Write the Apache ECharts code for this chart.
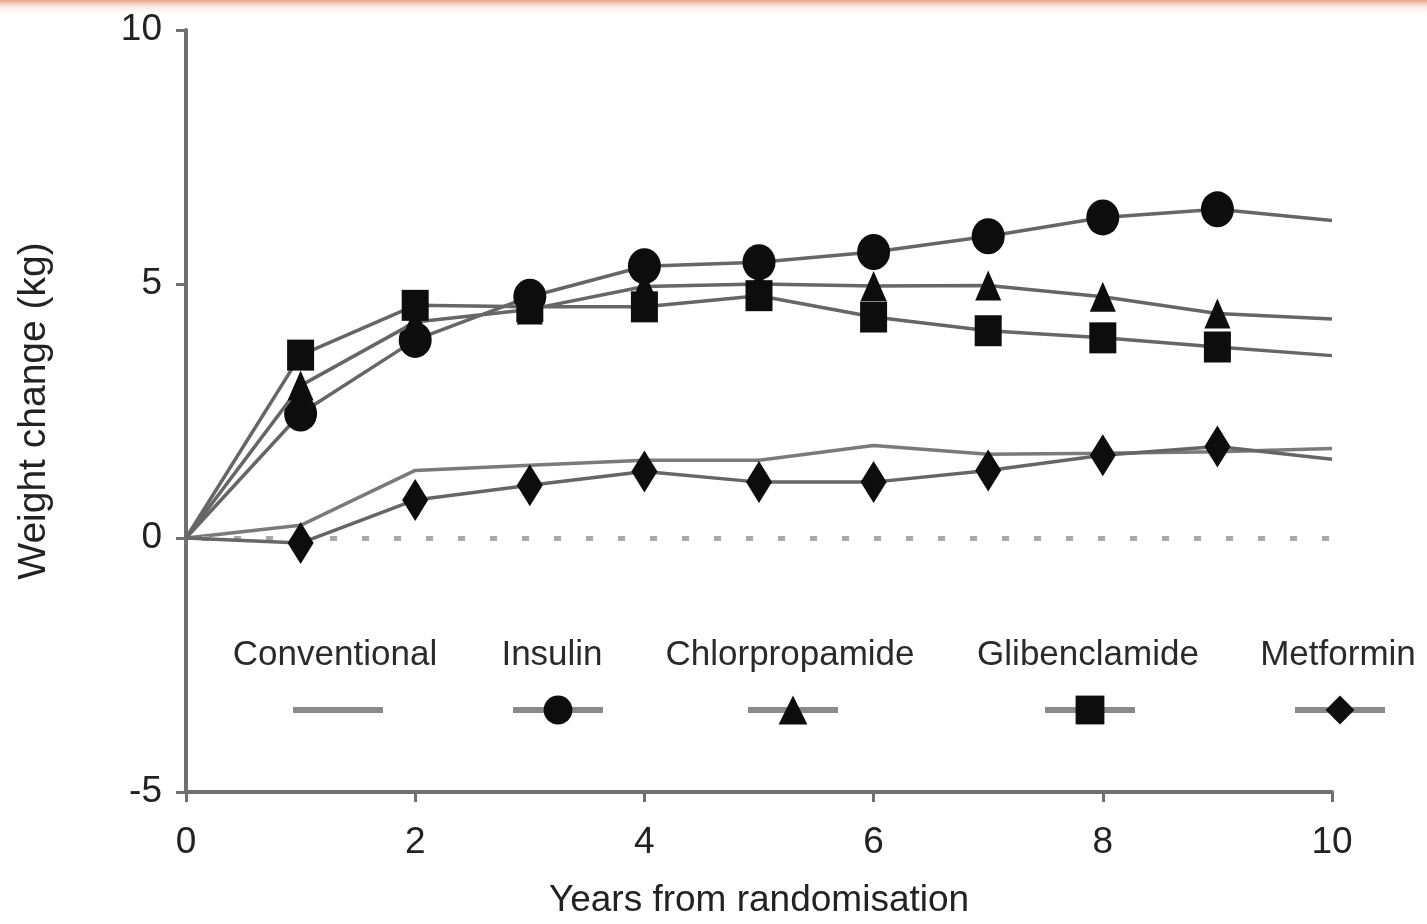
<!DOCTYPE html>
<html>
<head>
<meta charset="utf-8">
<script src="https://cdn.jsdelivr.net/npm/echarts@6/dist/echarts.min.js"></script>
<style>
html,body{margin:0;padding:0;background:#fff;}
#chart{width:1427px;height:924px;}
</style>
</head>
<body>
<div id="chart"></div>
<script>
// ---- data ----
const years = [0, 1, 2, 3, 4, 5, 6, 7, 8, 9, 10];
const seriesNames = ['Conventional', 'Insulin', 'Chlorpropamide', 'Glibenclamide', 'Metformin'];
const conventional   = [0, 0.25, 1.33, 1.43, 1.53, 1.53, 1.82, 1.65, 1.67, 1.70, 1.76];
const insulin        = [0, 2.45, 3.90, 4.75, 5.35, 5.43, 5.63, 5.94, 6.31, 6.47, 6.25];
const chlorpropamide = [0, 3.00, 4.25, 4.50, 4.95, 5.00, 4.96, 4.97, 4.75, 4.42, 4.31];
const glibenclamide  = [0, 3.60, 4.58, 4.55, 4.55, 4.77, 4.35, 4.08, 3.94, 3.76, 3.59];
const metformin      = [0, -0.10, 0.75, 1.04, 1.31, 1.10, 1.10, 1.33, 1.63, 1.80, 1.55];
const xTicks = [0, 2, 4, 6, 8, 10];
const yTicks = [-5, 0, 5, 10];
const xTitle = 'Years from randomisation';
const yTitle = 'Weight change (kg)';

// ---- styling ----
const FONT = "'Liberation Sans', Arial, sans-serif";
const LINE = '#666666';
const MARK = '#0d0d0d';
const symbols = {
  'Conventional':   { symbol: 'none', size: 0 },
  'Insulin':        { symbol: 'circle', size: [33, 36] },
  'Chlorpropamide': { symbol: 'triangle', size: [26, 30] },
  'Glibenclamide':  { symbol: 'rect', size: [27, 31] },
  'Metformin':      { symbol: 'diamond', size: [26, 42] }
};
const values = [conventional, insulin, chlorpropamide, glibenclamide, metformin];
const legendCenters = [338, 555, 790, 1087, 1337];
const labelCenters = [335, 552, 790, 1088, 1338];

function buildData(vals) {
  return years.map((x, i) => {
    const item = { value: [x, vals[i]] };
    if (i === 0 || i === years.length - 1) item.symbol = 'none';
    return item;
  });
}

const series = seriesNames.map((name, k) => {
  const s = {
    name: name,
    type: 'line',
    data: buildData(values[k]),
    symbol: symbols[name].symbol,
    symbolSize: symbols[name].size,
    showSymbol: symbols[name].symbol !== 'none',
    lineStyle: { color: k === 0 ? '#7a7a7a' : LINE, width: 3.5 },
    itemStyle: { color: MARK, borderWidth: 0 },
    z: 3 + k,
    animation: false
  };
  if (k === 0) {
    s.markLine = {
      silent: true,
      symbol: 'none',
      label: { show: false },
      lineStyle: { color: '#a8a8a8', width: 5, type: [7, 25], dashOffset: -16 },
      data: [[{ coord: [0, 0] }, { coord: [10, 0] }]],
      animation: false
    };
  }
  return s;
});

const legends = seriesNames.map((name, k) => {
  const lg = {
    data: [name],
    left: legendCenters[k] - 45,
    top: 692,
    itemWidth: 90,
    itemHeight: 36,
    itemGap: 0,
    selectedMode: false,
    formatter: () => '',
    textStyle: { fontSize: 1 },
    lineStyle: { color: '#8a8a8a', width: 6 },
    padding: 0
  };
  if (k === 0) {
    lg.icon = 'rect';
    lg.itemHeight = 6;
    lg.top = 707;
    lg.itemStyle = { color: '#8a8a8a' };
  }
  return lg;
});

const graphics = [
  { type: 'rect', left: 0, top: 0, shape: { width: 1427, height: 14 },
    style: { fill: { type: 'linear', x: 0, y: 0, x2: 0, y2: 1,
      colorStops: [{ offset: 0, color: '#e2a68a' }, { offset: 0.35, color: '#f6ddd0' }, { offset: 1, color: 'rgba(255,245,240,0)' }] } },
    silent: true }
];
seriesNames.forEach((name, k) => {
  graphics.push({
    type: 'text',
    x: labelCenters[k],
    y: 655,
    style: { text: name, fontSize: 35, fontFamily: FONT, fill: '#2a2a2a',
             align: 'center', verticalAlign: 'middle', textAlign: 'center', textVerticalAlign: 'middle' },
    silent: true
  });
});

const option = {
  backgroundColor: '#ffffff',
  animation: false,
  grid: { left: 186, right: 95, top: 30, bottom: 121, containLabel: false },
  legend: legends,
  graphic: graphics,
  xAxis: {
    type: 'value',
    min: xTicks[0], max: xTicks[xTicks.length - 1], interval: 2,
    axisLine: { show: true, onZero: false, lineStyle: { color: '#707070', width: 4 } },
    axisTick: { show: true, length: 10, lineStyle: { color: '#707070', width: 3 } },
    axisLabel: { fontSize: 37, fontFamily: FONT, color: '#222', margin: 32 },
    splitLine: { show: false },
    name: xTitle,
    nameLocation: 'middle',
    nameGap: 90,
    nameTextStyle: { fontSize: 37, fontFamily: FONT, color: '#222' }
  },
  yAxis: {
    type: 'value',
    min: yTicks[0], max: yTicks[yTicks.length - 1], interval: 5,
    axisLine: { show: true, onZero: false, lineStyle: { color: '#707070', width: 4 } },
    axisTick: { show: true, length: 10, lineStyle: { color: '#707070', width: 3 } },
    axisLabel: { fontSize: 37, fontFamily: FONT, color: '#222', margin: 24 },
    splitLine: { show: false },
    name: yTitle,
    nameLocation: 'middle',
    nameGap: 132,
    nameTextStyle: { fontSize: 39, fontFamily: FONT, color: '#222' }
  },
  series: series
};

const chart = echarts.init(document.getElementById('chart'), null, { renderer: 'canvas' });
chart.setOption(option);
</script>
</body>
</html>
